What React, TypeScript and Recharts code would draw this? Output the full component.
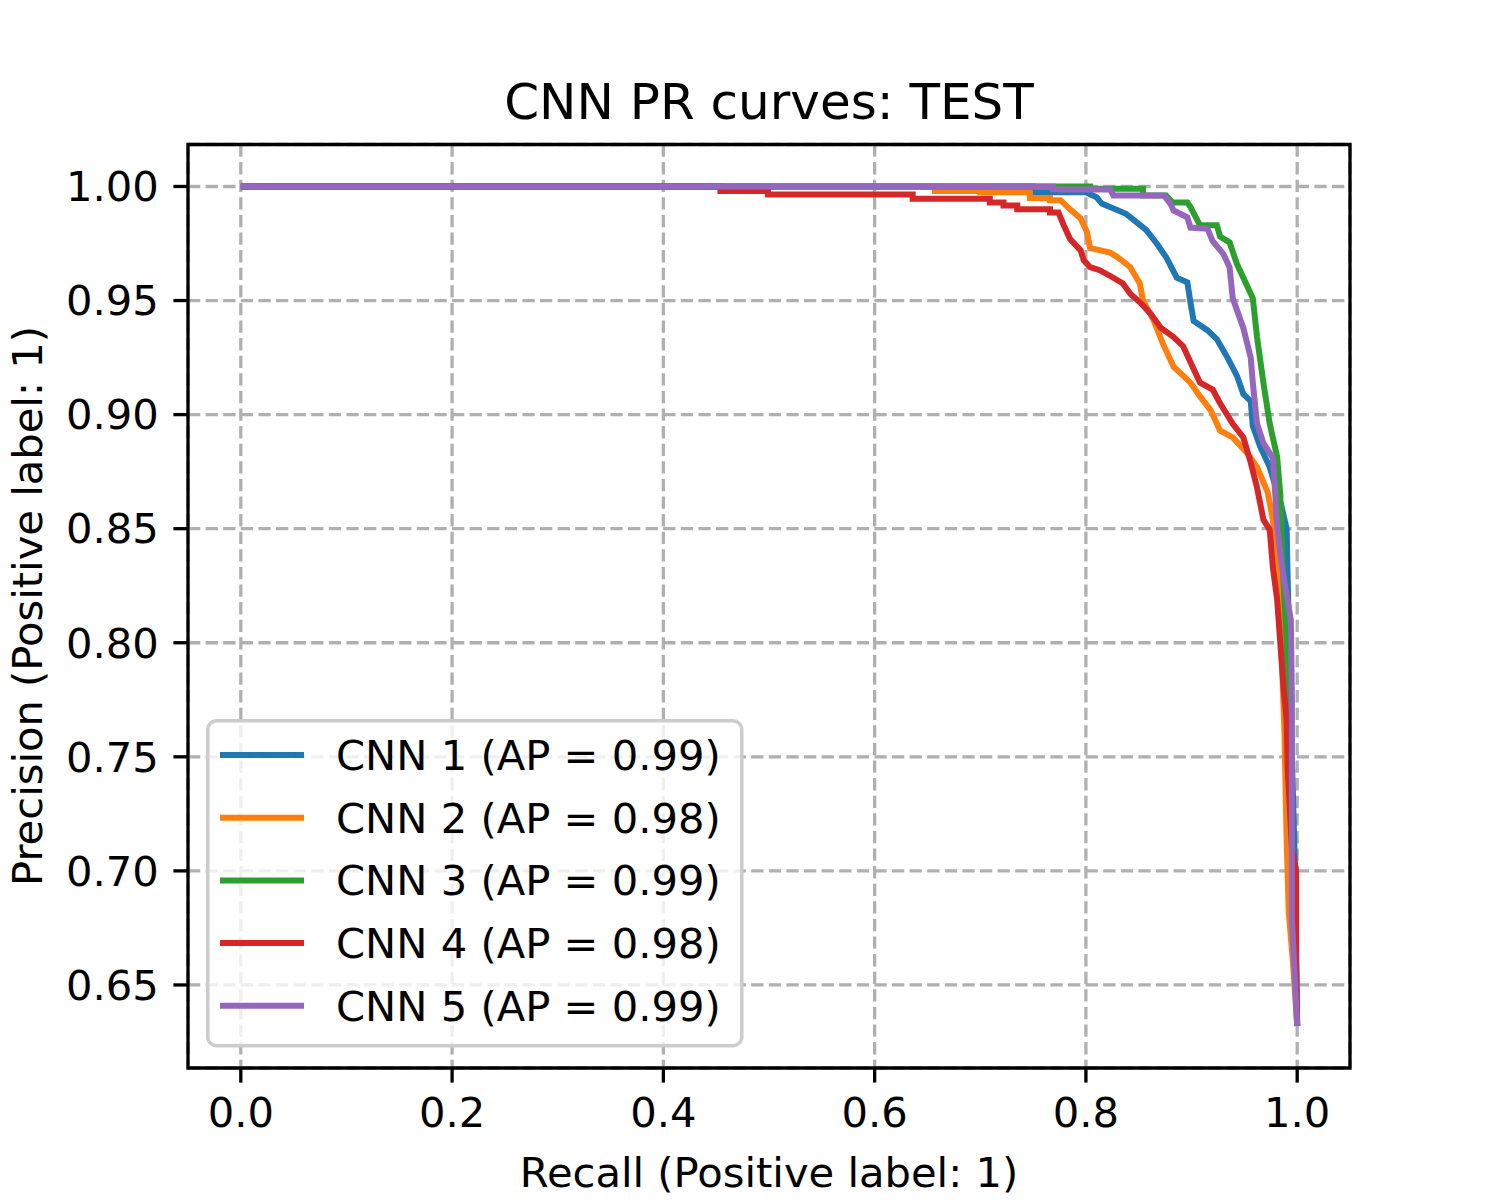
import React from "react";
import {
  LineChart,
  Line,
  XAxis,
  YAxis,
  CartesianGrid,
  Legend,
  ReferenceArea,
} from "recharts";

const FONT = "DejaVu Sans";

const xTicks = [0, 0.2, 0.4, 0.6, 0.8, 1.0];
const yTicks = [0.65, 0.7, 0.75, 0.8, 0.85, 0.9, 0.95, 1.0];

const cnnNames = [
  "CNN 1 (AP = 0.99)",
  "CNN 2 (AP = 0.98)",
  "CNN 3 (AP = 0.99)",
  "CNN 4 (AP = 0.98)",
  "CNN 5 (AP = 0.99)",
];
const cnnColors = ["#1f77b4", "#ff7f0e", "#2ca02c", "#d62728", "#9467bd"];

// CNN 1
const cnn1Recall = [0, 0.75, 0.75, 0.8, 0.81, 0.815, 0.838, 0.857, 0.867, 0.876, 0.886, 0.896, 0.899, 0.902, 0.915, 0.924, 0.934, 0.943, 0.949, 0.956, 0.958, 0.965, 0.974, 0.985, 0.99, 0.991, 0.995, 0.998, 1.0];
const cnn1Precision = [1, 1, 0.9975, 0.9975, 0.9953, 0.9925, 0.988, 0.981, 0.975, 0.969, 0.96, 0.958, 0.949, 0.941, 0.937, 0.933, 0.925, 0.917, 0.909, 0.906, 0.895, 0.886, 0.877, 0.86, 0.85, 0.828, 0.75, 0.7, 0.632];

// CNN 2
const cnn2Recall = [0, 0.657, 0.657, 0.7, 0.7, 0.747, 0.747, 0.766, 0.766, 0.776, 0.785, 0.795, 0.801, 0.804, 0.823, 0.83, 0.842, 0.851, 0.854, 0.864, 0.873, 0.883, 0.899, 0.908, 0.918, 0.927, 0.939, 0.953, 0.962, 0.972, 0.977, 0.981, 0.985, 0.988, 0.99, 0.992, 0.996, 1.0];
const cnn2Precision = [1, 1, 0.998, 0.998, 0.9975, 0.9975, 0.995, 0.995, 0.994, 0.994, 0.99, 0.986, 0.98, 0.973, 0.971, 0.969, 0.9646, 0.9575, 0.95, 0.9414, 0.931, 0.921, 0.914, 0.908, 0.902, 0.893, 0.89, 0.883, 0.877, 0.866, 0.854, 0.84, 0.8, 0.76, 0.714, 0.682, 0.66, 0.632];

// CNN 3
const cnn3Recall = [0, 0.804, 0.804, 0.854, 0.854, 0.876, 0.882, 0.896, 0.899, 0.908, 0.924, 0.927, 0.936, 0.943, 0.952, 0.958, 0.962, 0.968, 0.974, 0.981, 0.984, 0.987, 0.99, 0.993, 0.996, 1.0];
const cnn3Precision = [1, 1, 0.999, 0.999, 0.996, 0.996, 0.993, 0.993, 0.991, 0.983, 0.983, 0.978, 0.9755, 0.966, 0.957, 0.951, 0.934, 0.914, 0.896, 0.8815, 0.865, 0.827, 0.8, 0.75, 0.7, 0.632];

// CNN 4
const cnn4Recall = [0, 0.454, 0.454, 0.499, 0.499, 0.636, 0.636, 0.709, 0.709, 0.722, 0.722, 0.735, 0.735, 0.766, 0.766, 0.774, 0.779, 0.785, 0.795, 0.798, 0.804, 0.813, 0.826, 0.835, 0.842, 0.852, 0.861, 0.871, 0.883, 0.892, 0.901, 0.908, 0.92, 0.927, 0.939, 0.949, 0.956, 0.962, 0.965, 0.968, 0.974, 0.977, 0.981, 0.984, 0.987, 0.99, 0.991, 0.995, 0.999, 0.999, 1.0];
const cnn4Precision = [1, 1, 0.998, 0.998, 0.9965, 0.9965, 0.9946, 0.9946, 0.993, 0.993, 0.9917, 0.9917, 0.99, 0.99, 0.9886, 0.9886, 0.983, 0.977, 0.972, 0.9676, 0.9646, 0.9633, 0.96, 0.9575, 0.953, 0.9488, 0.9444, 0.938, 0.934, 0.93, 0.921, 0.914, 0.911, 0.905, 0.896, 0.89, 0.879, 0.868, 0.861, 0.854, 0.8495, 0.833, 0.819, 0.8, 0.781, 0.766, 0.745, 0.71, 0.7, 0.66, 0.632];

// CNN 5
const cnn5Recall = [0, 0.769, 0.769, 0.823, 0.826, 0.874, 0.88, 0.883, 0.896, 0.899, 0.915, 0.92, 0.93, 0.936, 0.939, 0.943, 0.949, 0.956, 0.958, 0.962, 0.968, 0.977, 0.979, 0.981, 0.985, 0.994, 0.995, 0.995, 0.997, 1.0];
const cnn5Precision = [1, 1, 0.9987, 0.9987, 0.996, 0.996, 0.9925, 0.9895, 0.9865, 0.982, 0.9815, 0.976, 0.9705, 0.9646, 0.951, 0.9458, 0.938, 0.925, 0.914, 0.896, 0.8875, 0.881, 0.867, 0.851, 0.835, 0.81, 0.776, 0.679, 0.66, 0.632];

const toPoints = (recall: number[], precision: number[]) =>
  recall.map((r, i) => ({ recall: r, precision: precision[i] }));

const series = [
  toPoints(cnn1Recall, cnn1Precision),
  toPoints(cnn2Recall, cnn2Precision),
  toPoints(cnn3Recall, cnn3Precision),
  toPoints(cnn4Recall, cnn4Precision),
  toPoints(cnn5Recall, cnn5Precision),
];

const LegendBox = (props: any) => {
  const items = props.payload || [];
  return (
    <svg width={538} height={330} style={{ display: "block" }}>
      <rect
        x={1.75}
        y={1.75}
        width={534}
        height={325}
        rx={9}
        ry={9}
        fill="rgba(255,255,255,0.8)"
        stroke="#cccccc"
        strokeWidth={3.5}
      />
      {items.map((it: any, i: number) => {
        const cy = 36 + i * 62.7;
        return (
          <g key={i}>
            <line x1={14} x2={98} y1={cy} y2={cy} stroke={it.color} strokeWidth={6} />
            <text x={130} y={cy + 15} fontSize={41.67} fontFamily={FONT} fill="#000">
              {it.value}
            </text>
          </g>
        );
      })}
    </svg>
  );
};

export default function App() {
  return (
    <div style={{ position: "relative", width: 1500, height: 1200, background: "#fff" }}>
      <style>{"body{margin:0}"}</style>
      <LineChart
        width={1500}
        height={1200}
        margin={{ top: 144.5, right: 150, left: 0, bottom: 0 }}
      >
        <CartesianGrid
          stroke="#b0b0b0"
          strokeWidth={3.3}
          strokeDasharray="12.3 5.3"
        />
        <XAxis
          type="number"
          dataKey="recall"
          domain={[-0.05, 1.05]}
          ticks={xTicks}
          tickFormatter={(v: number) => v.toFixed(1)}
          height={132}
          axisLine={false}
          tickSize={14.6}
          tickMargin={15}
          tickLine={{ stroke: "#000", strokeWidth: 3.3 }}
          tick={{ fill: "#000", fontSize: 41.67, fontFamily: FONT }}
          allowDataOverflow
        />
        <YAxis
          type="number"
          domain={[0.6136, 1.0184]}
          ticks={yTicks}
          tickFormatter={(v: number) => v.toFixed(2)}
          width={188}
          axisLine={false}
          tickSize={14.6}
          tickMargin={14.6}
          tickLine={{ stroke: "#000", strokeWidth: 3.3 }}
          tick={{ fill: "#000", fontSize: 41.67, fontFamily: FONT }}
          allowDataOverflow
        />
        {series.map((pts, i) => (
          <Line
            key={cnnNames[i]}
            data={pts}
            dataKey="precision"
            name={cnnNames[i]}
            type="linear"
            stroke={cnnColors[i]}
            strokeWidth={6}
            dot={false}
            activeDot={false}
            isAnimationActive={false}
          />
        ))}
        <ReferenceArea
          x1={-0.05}
          x2={1.05}
          y1={0.6136}
          y2={1.0184}
          fill="none"
          fillOpacity={0}
          stroke="#000"
          strokeWidth={3.3}
          ifOverflow="visible"
        />
        <Legend
          layout="vertical"
          align="center"
          verticalAlign="middle"
          content={<LegendBox />}
          wrapperStyle={{ position: "absolute", left: 206, top: 719, width: 538, height: 330 }}
        />
      </LineChart>
      <svg
        width={1500}
        height={1200}
        style={{ position: "absolute", left: 0, top: 0, pointerEvents: "none" }}
      >
        <text x={769} y={119} textAnchor="middle" fontSize={50} fontFamily={FONT} fill="#000">
          CNN PR curves: TEST
        </text>
        <text x={769} y={1187} textAnchor="middle" fontSize={41.67} fontFamily={FONT} fill="#000">
          Recall (Positive label: 1)
        </text>
        <text
          x={42}
          y={606}
          textAnchor="middle"
          fontSize={41.67}
          fontFamily={FONT}
          fill="#000"
          transform="rotate(-90 42 606)"
        >
          Precision (Positive label: 1)
        </text>
      </svg>
    </div>
  );
}
